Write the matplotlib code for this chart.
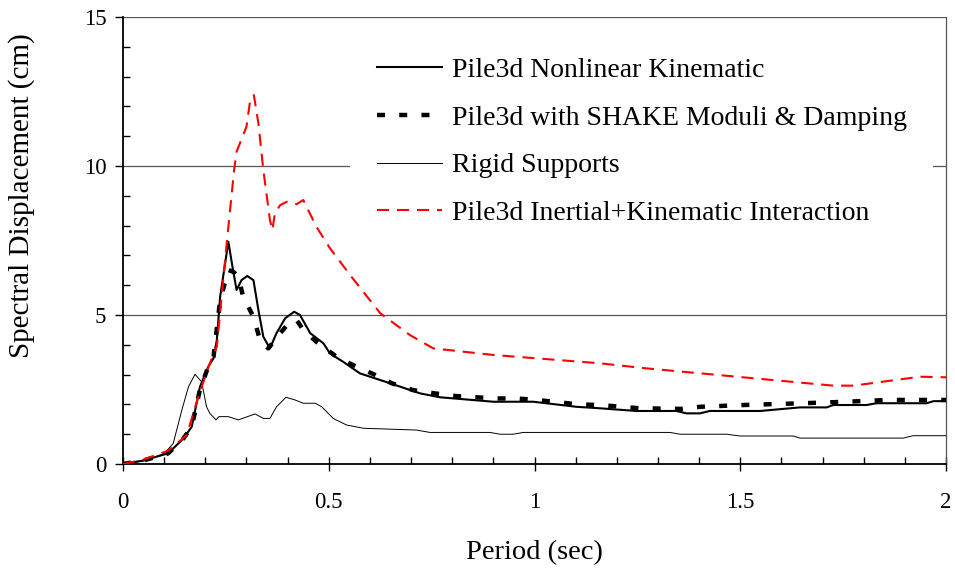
import matplotlib
matplotlib.use("Agg")
import matplotlib.pyplot as plt
from matplotlib.ticker import MultipleLocator

plt.rcParams["font.family"] = ["Liberation Serif", "DejaVu Serif"]

# =========================
# data
# =========================
t_nonlin = [0, 0.05, 0.11, 0.147, 0.167, 0.187, 0.207, 0.22, 0.228, 0.236, 0.256, 0.266,
            0.276, 0.288, 0.302, 0.317, 0.329, 0.341, 0.357, 0.373, 0.394, 0.416, 0.43,
            0.455, 0.487, 0.503, 0.535, 0.576, 0.649, 0.722, 0.77, 0.9, 0.997, 1.102,
            1.159, 1.248, 1.345, 1.369, 1.402, 1.426, 1.548, 1.645, 1.71, 1.726, 1.807,
            1.831, 1.953, 1.97, 2.0]
s_nonlin = [0, 0.12, 0.36, 0.86, 1.25, 2.59, 3.26, 3.55, 4.16, 5.61, 7.46, 6.62,
            5.84, 6.17, 6.31, 6.17, 5.17, 4.27, 3.88, 4.39, 4.89, 5.11, 5.0,
            4.39, 4.05, 3.71, 3.43, 3.04, 2.71, 2.37, 2.24, 2.09, 2.09, 1.92,
            1.87, 1.78, 1.78, 1.70, 1.70, 1.78, 1.78, 1.90, 1.90, 1.98, 1.98,
            2.04, 2.04, 2.11, 2.11]

t_shake = [0, 0.05, 0.11, 0.147, 0.167, 0.187, 0.207, 0.22, 0.236, 0.256, 0.268, 0.28,
           0.292, 0.317, 0.333, 0.353, 0.382, 0.406, 0.422, 0.438, 0.47, 0.519, 0.559,
           0.608, 0.653, 0.705, 0.758, 0.81, 0.907, 0.956, 1.005, 1.107, 1.159, 1.256,
           1.357, 1.402, 1.508, 1.653, 1.758, 1.856, 1.957, 2.0]
s_shake = [0, 0.12, 0.36, 0.86, 1.25, 2.5, 3.26, 3.6, 5.5, 6.51, 6.45, 6.3,
           5.61, 4.94, 4.16, 3.88, 4.39, 4.78, 4.83, 4.5, 4.1, 3.6, 3.32,
           3.02, 2.71, 2.48, 2.37, 2.28, 2.2, 2.2, 2.15, 2.0, 1.98, 1.87,
           1.85, 1.92, 1.98, 2.04, 2.09, 2.15, 2.15, 2.15]

t_rigid = [0, 0.05, 0.1, 0.122, 0.143, 0.159, 0.175, 0.191, 0.203, 0.211, 0.226, 0.233,
           0.256, 0.28, 0.321, 0.341, 0.357, 0.373, 0.396, 0.418, 0.438, 0.467, 0.483,
           0.511, 0.543, 0.584, 0.713, 0.746, 0.892, 0.916, 0.948, 0.973, 1.329, 1.354,
           1.467, 1.499, 1.629, 1.645, 1.896, 1.92, 2.0]
s_rigid = [0, 0.1, 0.35, 0.69, 1.81, 2.59, 3.01, 2.76, 1.92, 1.70, 1.48, 1.59,
           1.59, 1.48, 1.68, 1.53, 1.53, 1.92, 2.24, 2.15, 2.04, 2.04, 1.92,
           1.53, 1.31, 1.20, 1.14, 1.06, 1.06, 1.0, 1.0, 1.06, 1.06, 1.0,
           1.0, 0.94, 0.94, 0.87, 0.87, 0.95, 0.95]

t_inert = [0, 0.05, 0.11, 0.155, 0.183, 0.211, 0.228, 0.252, 0.27, 0.276, 0.30, 0.309,
           0.318, 0.329, 0.341, 0.357, 0.363, 0.369, 0.382, 0.398, 0.422, 0.438, 0.47,
           0.503, 0.552, 0.625, 0.697, 0.754, 0.90, 1.159, 1.272, 1.726, 1.775, 1.937, 2.0]
s_inert = [0, 0.15, 0.45, 0.97, 2.26, 3.38, 3.94, 7.4, 9.87, 10.48, 11.32, 12.2,
           12.38, 11.43, 9.87, 8.19, 7.85, 8.41, 8.69, 8.80, 8.72, 8.86, 7.96,
           7.24, 6.34, 5.06, 4.33, 3.88, 3.66, 3.38, 3.21, 2.63, 2.63, 2.93, 2.91]

labels = ["Pile3d Nonlinear Kinematic",
          "Pile3d with SHAKE Moduli & Damping",
          "Rigid Supports",
          "Pile3d Inertial+Kinematic Interaction"]

grid_levels = [5, 10, 15]

# =========================
# plot
# =========================
fig = plt.figure(figsize=(9.55, 5.69), dpi=100)
ax = fig.add_axes([0.1288, 0.1845, 0.8618, 0.7856])

for g in grid_levels:
    ax.axhline(g, color="#555555", linewidth=0.9, zorder=0)

ax.plot(t_nonlin, s_nonlin, color="black", linewidth=1.5, label=labels[0], zorder=3)
ax.plot(t_shake, s_shake, color="black", linewidth=3.2, linestyle=(0, (1.8, 3.2)),
        dash_capstyle="butt", label=labels[1], zorder=4)
ax.plot(t_rigid, s_rigid, color="black", linewidth=0.7, label=labels[2], zorder=2)
ax.plot(t_inert, s_inert, color="red", linewidth=1.5, linestyle=(0, (5.8, 3.8)),
        dash_capstyle="butt", label=labels[3], zorder=5)

ax.set_xlim(0, 2)
ax.set_ylim(0, 15)

ax.xaxis.set_major_locator(MultipleLocator(0.5))
ax.xaxis.set_minor_locator(MultipleLocator(0.1))
ax.yaxis.set_major_locator(MultipleLocator(5))
ax.yaxis.set_minor_locator(MultipleLocator(1))
ax.xaxis.set_major_formatter(plt.FuncFormatter(lambda v, p: f"{v:g}"))

ax.tick_params(axis="x", which="major", direction="inout", length=10, width=1,
               labelsize=16.5, pad=15)
ax.tick_params(axis="x", which="minor", direction="in", length=5, width=1)
ax.tick_params(axis="y", which="major", direction="out", length=6, width=1,
               labelsize=16.5, pad=6)
ax.tick_params(axis="y", which="minor", direction="in", length=5, width=1)

ax.spines["left"].set_linewidth(1.3)
ax.spines["bottom"].set_linewidth(1.3)
ax.spines["top"].set_visible(False)
ax.spines["right"].set_color("#555555")
ax.spines["right"].set_linewidth(0.9)

ax.set_xlabel("Period (sec)", fontsize=20.5, labelpad=20)
ax.set_ylabel("Spectral Displacement (cm)", fontsize=21)
ax.yaxis.set_label_coords(-0.107, 0.60)

leg = ax.legend(loc="upper left", bbox_to_anchor=(0.276, 0.968), borderaxespad=0,
                prop={"size": 20}, handlelength=2.34, handletextpad=0.36,
                labelspacing=0.8, borderpad=0.95, frameon=True, fancybox=False,
                framealpha=1)
leg.get_frame().set_edgecolor("none")
leg.get_frame().set_facecolor("white")
leg.set_zorder(6)

fig.savefig("out.png", dpi=100)
